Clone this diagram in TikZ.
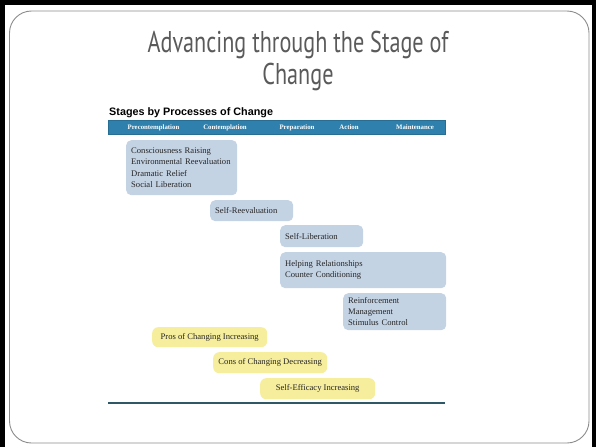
\documentclass[tikz,border=0pt]{standalone}
\usepackage{fontspec}
\setmainfont{Liberation Serif}
\newfontfamily\titlefont[FakeStretch=0.74]{PT Sans}
\newfontfamily\headfont{Liberation Sans}
\definecolor{titlegray}{HTML}{5A5A5A}
\definecolor{framegray}{HTML}{8C8C8C}
\definecolor{barblue}{HTML}{2F80AC}
\definecolor{procblue}{HTML}{C4D3E4}
\definecolor{decyellow}{HTML}{F6EE9C}
\definecolor{ruleteal}{HTML}{2E5868}
\tikzset{
  procbox/.style={rounded corners=5pt, fill=procblue, anchor=north west,
    align=left, inner xsep=5pt, inner ysep=0pt, text=black!85,
    font=\fontsize{8.6}{11.2}\selectfont},
  decbox/.style={rounded corners=6pt, fill=decyellow, anchor=north west,
    align=center, inner sep=0pt, text=black!85,
    font=\fontsize{8.6}{11}\selectfont},
  stagelabel/.style={text=white, font=\bfseries\fontsize{6.8}{8}\selectfont, inner sep=0pt}
}
\begin{document}
\begin{tikzpicture}[x=1pt,y=-1pt]
\useasboundingbox (0,0) rectangle (596,447);
\fill[white] (0,0) rectangle (596,447);
% slide frame
\draw[framegray, line width=0.9pt, rounded corners=22pt] (9.5,11) rectangle (589,443);
\fill[black] (0,0) rectangle (596,5);
\fill[black] (0,0) rectangle (5,447);
\fill[black] (592,0) rectangle (596,447);
% title
\node[text=titlegray, font=\titlefont\fontsize{30}{32}\selectfont, align=center, anchor=north]
  (title) at (298,28) {Advancing through the Stage of\\Change};
% chart heading and stage bar
\node[anchor=base west, inner sep=0pt, font=\headfont\bfseries\fontsize{10.8}{12}\selectfont]
  (heading) at (109,115) {Stages by Processes of Change};
\draw[barblue!85!black, fill=barblue, line width=0.6pt] (108.5,120.5) rectangle (445,134);
\node[stagelabel] (s1) at (153.5,127.5) {Precontemplation};
\node[stagelabel] (s2) at (225,127.5) {Contemplation};
\node[stagelabel] (s3) at (297,127.5) {Preparation};
\node[stagelabel] (s4) at (349,127.5) {Action};
\node[stagelabel] (s5) at (415,127.5) {Maintenance};
% processes of change
\node[procbox, minimum width=111pt, minimum height=55pt, text width=101pt] (p1) at (126,140)
  {Consciousness Raising\\Environmental Reevaluation\\Dramatic Relief\\Social Liberation};
\node[procbox, minimum width=83pt, minimum height=21pt, text width=73pt] (p2) at (210,200)
  {Self-Reevaluation};
\node[procbox, minimum width=83pt, minimum height=22pt, text width=73pt] (p3) at (280,225)
  {Self-Liberation};
\node[procbox, minimum width=166pt, minimum height=36pt, text width=156pt] (p4) at (280,252)
  {Helping Relationships\\Counter Conditioning};
\node[procbox, minimum width=103pt, minimum height=37pt, text width=93pt] (p5) at (343,293)
  {Reinforcement\\Management\\Stimulus Control};
% decisional balance and self-efficacy
\node[decbox, minimum width=115pt, minimum height=20pt] (d1) at (152,327) {Pros of Changing Increasing};
\node[decbox, minimum width=114pt, minimum height=21pt] (d2) at (213,352) {Cons of Changing Decreasing};
\node[decbox, minimum width=115pt, minimum height=21pt] (d3) at (260,378) {Self-Efficacy Increasing};
% base rule
\coordinate (ruleL) at (108,403);
\coordinate (ruleR) at (445,403);
\draw[ruleteal, line width=2.8pt] (ruleL) -- (ruleR);
\end{tikzpicture}
\end{document}
